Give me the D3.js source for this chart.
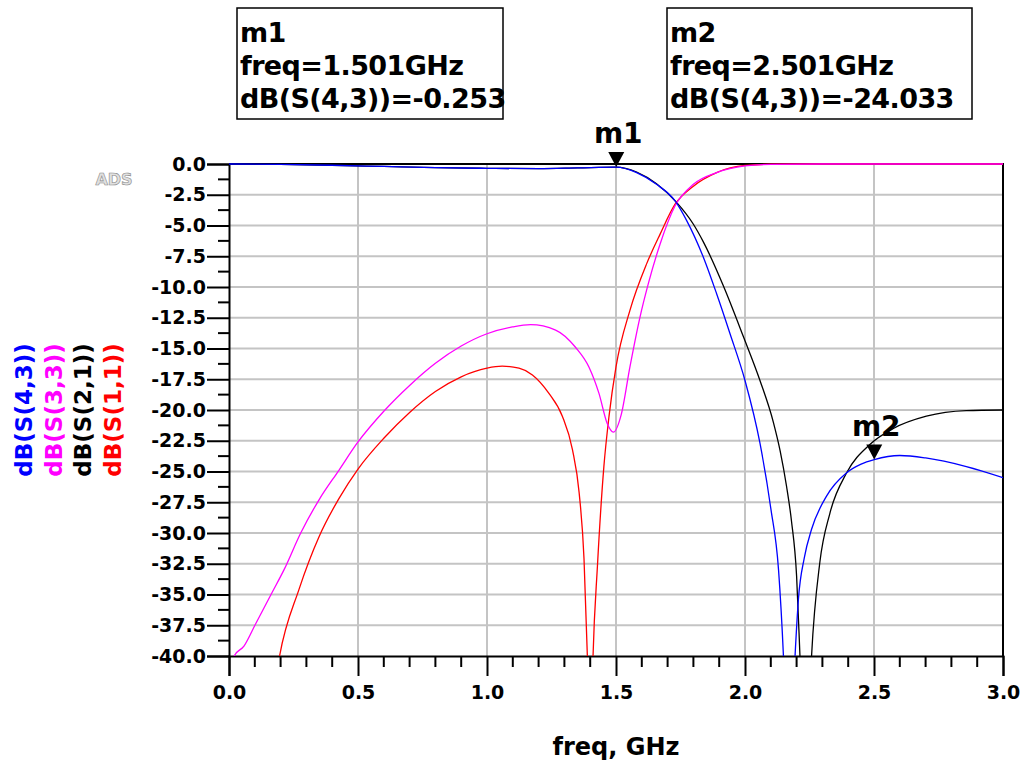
<!DOCTYPE html>
<html>
<head>
<meta charset="utf-8">
<script src="https://cdn.jsdelivr.net/npm/d3@7"></script>
<style>
body { margin: 0; background: #fff; }
svg { display: block; font-family: "DejaVu Sans", sans-serif; }
</style>
</head>
<body>
<svg id="chart" width="1025" height="762"></svg>
<script>
// axis ticks
var xMajor = [0.0, 0.5, 1.0, 1.5, 2.0, 2.5, 3.0];
var yMajor = [0.0, -2.5, -5.0, -7.5, -10.0, -12.5, -15.0, -17.5, -20.0, -22.5, -25.0, -27.5, -30.0, -32.5, -35.0, -37.5, -40.0];

// dB(S(4,3))
var freqS43 = [0, 0.2, 0.4, 0.6, 0.8, 1.0, 1.2, 1.35, 1.5, 1.58, 1.657, 1.729, 1.774, 1.839, 1.89, 1.942, 2.0, 2.058, 2.1, 2.13, 2.149, 2.17, 2.194, 2.207, 2.23, 2.258, 2.316, 2.394, 2.45, 2.501, 2.6, 2.7, 2.858, 3.0];
var dbS43 = [0, -0.03, -0.1, -0.2, -0.3, -0.35, -0.38, -0.32, -0.253, -0.7, -1.65, -3.0, -4.6, -7.6, -10.55, -13.8, -17.6, -22.7, -28.0, -33.0, -40, -52, -40, -35.4, -32.0, -29.7, -27.0, -25.1, -24.4, -24.033, -23.7, -23.9, -24.6, -25.5];

// dB(S(3,3))
var freqS33 = [0.01, 0.02, 0.058, 0.103, 0.168, 0.213, 0.278, 0.349, 0.426, 0.5, 0.6, 0.7, 0.8, 0.9, 1.0, 1.098, 1.169, 1.266, 1.343, 1.395, 1.434, 1.466, 1.49, 1.52, 1.554, 1.593, 1.625, 1.671, 1.729, 1.8, 1.89, 2.0, 2.1, 2.3, 3.0];
var dbS33 = [-41, -40, -39.2, -37.4, -34.8, -33.0, -30.0, -27.3, -24.9, -22.6, -20.1, -18.0, -16.2, -14.8, -13.8, -13.25, -13.06, -13.5, -14.9, -16.5, -18.65, -21.1, -21.8, -20.4, -16.5, -12.45, -9.75, -6.5, -3.4, -1.65, -0.7, -0.16, -0.03, 0, 0];

// dB(S(2,1))
var freqS21 = [0, 0.2, 0.4, 0.6, 0.8, 1.0, 1.2, 1.35, 1.5, 1.58, 1.657, 1.734, 1.8, 1.839, 1.916, 1.994, 2.058, 2.11, 2.136, 2.161, 2.18, 2.2, 2.213, 2.235, 2.258, 2.29, 2.329, 2.394, 2.484, 2.575, 2.703, 2.858, 3.0];
var dbS21 = [0, -0.03, -0.1, -0.2, -0.3, -0.35, -0.38, -0.32, -0.25, -0.65, -1.6, -3.1, -4.9, -6.35, -9.9, -14.05, -17.6, -21.0, -23.3, -26.2, -29.0, -33.5, -40, -52, -40, -32.4, -28.4, -25.1, -22.8, -21.5, -20.5, -20.05, -20.0];

// dB(S(1,1))
var freqS11 = [0.18, 0.196, 0.271, 0.349, 0.426, 0.5, 0.6, 0.7, 0.8, 0.9, 1.0, 1.059, 1.124, 1.176, 1.24, 1.292, 1.331, 1.357, 1.376, 1.389, 1.40, 1.411, 1.428, 1.453, 1.473, 1.5, 1.554, 1.619, 1.671, 1.729, 1.8, 1.89, 2.0, 2.1, 2.3, 3.0];
var dbS11 = [-42, -40, -34.6, -30.3, -27.2, -24.8, -22.3, -20.2, -18.5, -17.3, -16.6, -16.44, -16.6, -17.15, -18.65, -20.5, -23.2, -26.7, -32.1, -40, -50, -40, -32.7, -24.6, -20.5, -16.5, -11.9, -8.1, -5.7, -3.27, -1.8, -0.7, -0.12, -0.02, 0, 0];

// markers
var markerNames = ["m1", "m2"];
var markerFreq = [1.501, 2.501];
var markerValue = [-0.253, -24.033];

var legendNames = ["dB(S(4,3))", "dB(S(3,3))", "dB(S(2,1))", "dB(S(1,1))"];
var legendColors = ["#0000ff", "#ff00ff", "#000000", "#ff0000"];

var plotLeft = 229, plotRight = 1003, plotTop = 164, plotBottom = 656;

var svg = d3.select("#chart");

var x = d3.scaleLinear().domain([0, 3]).range([plotLeft, plotRight]);
var y = d3.scaleLinear().domain([0, -40]).range([plotTop, plotBottom]);

function zip(fs, vs) {
	return fs.map(function(f, i) {
		return [f, vs[i]];
	});
}// END: zip

function oneDecimal(d) {
	// plain hyphen, not the unicode minus of d3.format
	return d.toFixed(1);
}

// grid
var grid = svg.append("g");
grid.selectAll("line.gx").data(xMajor.slice(1, -1)).enter().append("line") //
.attr("x1", function(d) { return x(d); }) //
.attr("x2", function(d) { return x(d); }) //
.attr("y1", plotTop).attr("y2", plotBottom) //
.attr("stroke", "#c4c4c4").attr("stroke-width", 2);
grid.selectAll("line.gy").data(yMajor.slice(1, -1)).enter().append("line") //
.attr("y1", function(d) { return y(d); }) //
.attr("y2", function(d) { return y(d); }) //
.attr("x1", plotLeft).attr("x2", plotRight) //
.attr("stroke", "#c4c4c4").attr("stroke-width", 2);

// y axis
var yAxis = d3.axisLeft(y).tickValues(yMajor).tickSize(22).tickPadding(1) //
.tickFormat(oneDecimal);
var gy = svg.append("g").attr("transform", "translate(" + plotLeft + ",0)").call(yAxis);
gy.select(".domain").attr("stroke", "#000").attr("stroke-width", 2);
gy.selectAll(".tick line").attr("stroke-width", 2);
gy.selectAll("text").attr("font-size", 19).attr("font-weight", "bold") //
.attr("font-family", "DejaVu Sans").attr("fill", "#000");

var yMinor = d3.range(-1.25, -40, -2.5);
svg.append("g").selectAll("line").data(yMinor).enter().append("line") //
.attr("x1", plotLeft - 11).attr("x2", plotLeft) //
.attr("y1", function(d) { return y(d); }) //
.attr("y2", function(d) { return y(d); }) //
.attr("stroke", "#000").attr("stroke-width", 2);

// x axis
var xAxis = d3.axisBottom(x).tickValues(xMajor).tickSize(20).tickPadding(10) //
.tickFormat(oneDecimal);
var gx = svg.append("g").attr("transform", "translate(0," + plotBottom + ")").call(xAxis);
gx.select(".domain").attr("stroke", "#000").attr("stroke-width", 2);
gx.selectAll(".tick line").attr("stroke-width", 2);
gx.selectAll("text").attr("font-size", 19).attr("font-weight", "bold") //
.attr("font-family", "DejaVu Sans").attr("fill", "#000");

var xMinor = d3.range(1, 30).filter(function(d) { return d % 5 != 0; }) //
.map(function(d) { return d / 10; });
svg.append("g").selectAll("line").data(xMinor).enter().append("line") //
.attr("x1", function(d) { return x(d); }) //
.attr("x2", function(d) { return x(d); }) //
.attr("y1", plotBottom).attr("y2", plotBottom + 11) //
.attr("stroke", "#000").attr("stroke-width", 2);

// top and right border
svg.append("path") //
.attr("d", "M" + plotLeft + "," + plotTop + "H" + plotRight + "V" + plotBottom) //
.attr("fill", "none").attr("stroke", "#000").attr("stroke-width", 2);

svg.append("text").attr("x", (plotLeft + plotRight) / 2).attr("y", 755) //
.attr("text-anchor", "middle").attr("font-size", 24).attr("font-weight", "bold") //
.text("freq, GHz");

// curves
svg.append("clipPath").attr("id", "plotClip").append("rect") //
.attr("x", plotLeft).attr("y", plotTop - 2).attr("width", plotRight - plotLeft) //
.attr("height", plotBottom - plotTop + 2);

var line = d3.line() //
.x(function(d) { return x(d[0]); }) //
.y(function(d) { return y(d[1]); }) //
.curve(d3.curveMonotoneX);

var series = [
	{ values : zip(freqS21, dbS21), color : "#000000" },
	{ values : zip(freqS11, dbS11), color : "#ff0000" },
	{ values : zip(freqS33, dbS33), color : "#ff00ff" },
	{ values : zip(freqS43, dbS43), color : "#0000ff" }
];

svg.append("g").attr("clip-path", "url(#plotClip)") //
.selectAll("path").data(series).enter().append("path") //
.attr("d", function(d) { return line(d.values); }) //
.attr("fill", "none") //
.attr("stroke", function(d) { return d.color; }) //
.attr("stroke-width", 1.3);

// markers on the curve
var markers = svg.append("g").selectAll("g").data(markerNames).enter().append("g");
markers.append("path").attr("d", function(d, i) {
	var mx = x(markerFreq[i]);
	var my = y(markerValue[i]);
	return "M" + (mx - 8) + "," + (my - 15) + "H" + (mx + 8) + "L" + mx + "," + my + "Z";
}).attr("fill", "#000");
markers.append("text") //
.attr("x", function(d, i) { return x(markerFreq[i]) + 2; }) //
.attr("y", function(d, i) { return y(markerValue[i]) - 24; }) //
.attr("text-anchor", "middle").attr("font-size", 28).attr("font-weight", "bold") //
.text(function(d) { return d; });

// marker readout boxes
var boxX = [237, 667];
var boxes = svg.append("g").selectAll("g").data(markerNames).enter().append("g");
boxes.append("rect") //
.attr("x", function(d, i) { return boxX[i]; }) //
.attr("y", 8) //
.attr("width", function(d, i) { return i == 0 ? 266 : 305; }) //
.attr("height", 111) //
.attr("fill", "#fff").attr("stroke", "#000").attr("stroke-width", 1.5);
boxes.each(function(d, i) {
	var lines = [ d, "freq=" + markerFreq[i].toFixed(3) + "GHz",
			"dB(S(4,3))=" + markerValue[i].toFixed(3) ];
	d3.select(this).selectAll("text").data(lines).enter().append("text") //
	.attr("x", boxX[i] + 3) //
	.attr("y", function(t, j) { return 42 + j * 33; }) //
	.attr("font-size", 27).attr("font-weight", "bold") //
	.attr("letter-spacing", -0.6) //
	.text(function(t) { return t; });
});

// legend down the left side
svg.append("g").selectAll("text").data(legendNames).enter().append("text") //
.attr("transform", function(d, i) {
	return "translate(" + (32 + i * 29.5) + "," + ((plotTop + plotBottom) / 2) + ") rotate(-90)";
}) //
.attr("text-anchor", "middle").attr("font-size", 23).attr("font-weight", "bold") //
.attr("fill", function(d, i) { return legendColors[i]; }) //
.text(function(d) { return d; });

svg.append("text").attr("x", 114).attr("y", 185) //
.attr("text-anchor", "middle").attr("font-size", 16).attr("font-weight", "bold") //
.attr("fill", "#e0e0e0").attr("stroke", "#8a8a8a").attr("stroke-width", 0.6) //
.text("ADS");
</script>
</body>
</html>
